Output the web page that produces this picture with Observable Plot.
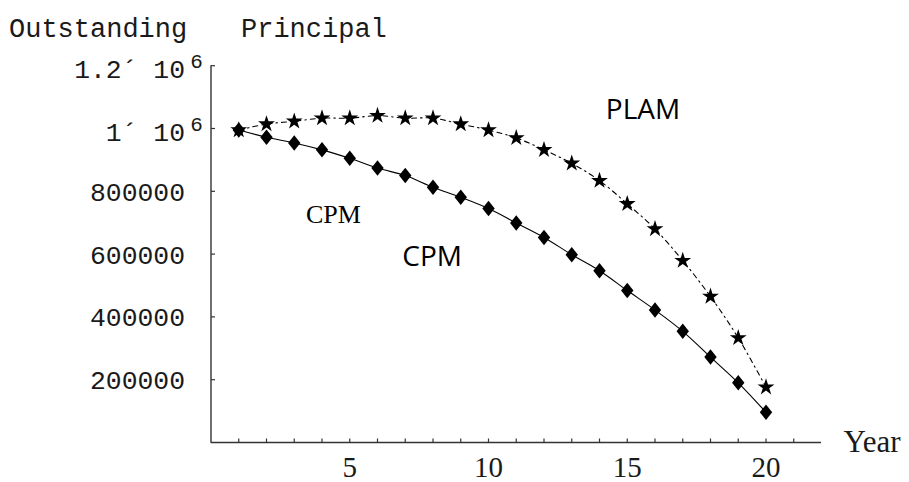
<!DOCTYPE html>
<html>
<head>
<meta charset="utf-8">
<script src="https://cdn.jsdelivr.net/npm/d3@7"></script>
<script src="https://cdn.jsdelivr.net/npm/@observablehq/plot@0.6"></script>
<style>
  html, body { margin: 0; padding: 0; background: #fff; }
  #chart { width: 909px; height: 482px; }
</style>
</head>
<body>
<div id="chart"></div>
<script>
// ---- data ----
const years = [1, 2, 3, 4, 5, 6, 7, 8, 9, 10, 11, 12, 13, 14, 15, 16, 17, 18, 19, 20];
const cpmBalance = [995000, 972000, 954000, 932000, 905000, 874000, 850000, 813000, 781000, 745000,
                    699000, 653000, 598000, 547000, 484000, 422000, 354000, 272000, 190000, 96000];
const plamBalance = [995000, 1014000, 1023000, 1033000, 1033000, 1041000, 1033000, 1033000, 1014000, 995000,
                     970000, 932000, 889000, 834000, 760000, 680000, 579000, 465000, 333000, 176000];

const xTickValues = [1, 2, 3, 4, 5, 6, 7, 8, 9, 10, 11, 12, 13, 14, 15, 16, 17, 18, 19, 20, 21];
const xLabelValues = [5, 10, 15, 20];
const yTickValues = [200000, 400000, 600000, 800000, 1000000, 1200000];
const yPlainLabels = ["200000", "400000", "600000", "800000"];
const yPlainValues = [200000, 400000, 600000, 800000];
const yExpLabels = ["1´ 10", "1.2´ 10"];
const yExpValues = [1000000, 1200000];
const yExponent = "6";

const titleLeft = "Outstanding";
const titleRight = "Principal";
const xTitle = "Year";

// ---- tables built from the arrays ----
const cpmData = years.map((year, i) => ({year, value: cpmBalance[i]}));
const plamData = years.map((year, i) => ({year, value: plamBalance[i]}));

// ---- symbols ----
const diamondSym = {
  draw(ctx, size) {
    const r = Math.sqrt(size / Math.PI);
    const w = r, h = r * 1.25;
    ctx.moveTo(0, -h); ctx.lineTo(w, 0); ctx.lineTo(0, h); ctx.lineTo(-w, 0); ctx.closePath();
  }
};
const tickUp = { draw(ctx) { ctx.moveTo(0, 0); ctx.lineTo(0, -4); } };
const tickRight = { draw(ctx) { ctx.moveTo(0, 0); ctx.lineTo(4, 0); } };

const axisColor = "#333";
const textColor = "#1a1a1a";
const monoFont = "'Liberation Mono', 'DejaVu Sans Mono', monospace";
const serifFont = "'Liberation Serif', 'DejaVu Serif', serif";
const sansFont = "'Open Sans', 'Noto Sans', sans-serif";

const chart = Plot.plot({
  width: 909,
  height: 482,
  marginLeft: 210.5,
  marginRight: 88,
  marginTop: 65.2,
  marginBottom: 40,
  x: {domain: [0, 22], axis: null},
  y: {domain: [0, 1200000], axis: null},
  style: {background: "#fff"},
  marks: [
    // axes
    Plot.ruleY([0], {stroke: axisColor, strokeWidth: 1.4}),
    Plot.ruleX([0], {stroke: axisColor, strokeWidth: 1.4}),
    Plot.dot(xTickValues, {x: d => d, y: () => 0, symbol: tickUp, fill: "none", stroke: axisColor, strokeWidth: 1.2}),
    Plot.dot(yTickValues, {x: () => 0, y: d => d, symbol: tickRight, fill: "none", stroke: axisColor, strokeWidth: 1.2}),

    // x tick labels
    Plot.text(xLabelValues, {x: d => d, frameAnchor: "bottom", text: d => String(d), lineAnchor: "bottom",
      dy: 34.5, fontFamily: serifFont, fontSize: 29, fill: textColor}),
    // x title
    Plot.text([xTitle], {frameAnchor: "bottom-right", text: d => d, textAnchor: "start", lineAnchor: "bottom",
      dx: 22, dy: 9, fontFamily: serifFont, fontSize: 31, fill: textColor}),

    // y tick labels
    Plot.text(yPlainValues, {y: d => d, frameAnchor: "left", text: (d, i) => yPlainLabels[i], textAnchor: "end",
      lineAnchor: "bottom", dx: -26, dy: 9.5, fontFamily: monoFont, fontSize: 26.4, fill: textColor}),
    Plot.text(yExpValues, {y: d => d, frameAnchor: "left", text: (d, i) => yExpLabels[i], textAnchor: "end",
      lineAnchor: "bottom", dx: -26, dy: 12.5, fontFamily: monoFont, fontSize: 26.4, fill: textColor}),
    Plot.text(yExpValues, {y: d => d, frameAnchor: "left", text: () => yExponent, textAnchor: "middle",
      lineAnchor: "bottom", dx: -14.5, dy: 2, fontFamily: monoFont, fontSize: 21, fill: textColor}),

    // y title
    Plot.text([titleLeft], {frameAnchor: "top-left", text: d => d, textAnchor: "start", lineAnchor: "bottom",
      dx: -202, dy: -28.2, fontFamily: monoFont, fontSize: 27, fill: textColor}),
    Plot.text([titleRight], {frameAnchor: "top-left", text: d => d, textAnchor: "start", lineAnchor: "bottom",
      dx: 30, dy: -28.2, fontFamily: monoFont, fontSize: 27, fill: textColor}),

    // series lines
    Plot.line(plamData, {x: "year", y: "value", curve: "catmull-rom", stroke: "#000", strokeWidth: 1.1,
      strokeDasharray: "5,4,1.5,4"}),
    Plot.line(cpmData, {x: "year", y: "value", curve: "catmull-rom", stroke: "#000", strokeWidth: 1.1}),

    // markers
    Plot.dot(plamData, {x: "year", y: "value", symbol: "star", r: 5.3, fill: "#000", stroke: "none"}),
    Plot.dot(cpmData, {x: "year", y: "value", symbol: diamondSym, r: 6.2, fill: "#000", stroke: "none"}),

    // annotations
    Plot.text(["PLAM"], {frameAnchor: "top-left", text: d => d, textAnchor: "middle", lineAnchor: "bottom",
      dx: 432, dy: 52.8, fontFamily: sansFont, fontSize: 28, fill: "#000"}),
    Plot.text(["CPM"], {frameAnchor: "top-left", text: d => d, textAnchor: "middle", lineAnchor: "bottom",
      dx: 221.2, dy: 199.8, fontFamily: sansFont, fontSize: 28, fill: "#000"}),
    Plot.text(["CPM"], {frameAnchor: "top-left", text: d => d, textAnchor: "start", lineAnchor: "bottom",
      dx: 95, dy: 157.3, fontFamily: serifFont, fontSize: 26, fill: "#000"})
  ]
});

document.getElementById("chart").appendChild(chart);
</script>
</body>
</html>
